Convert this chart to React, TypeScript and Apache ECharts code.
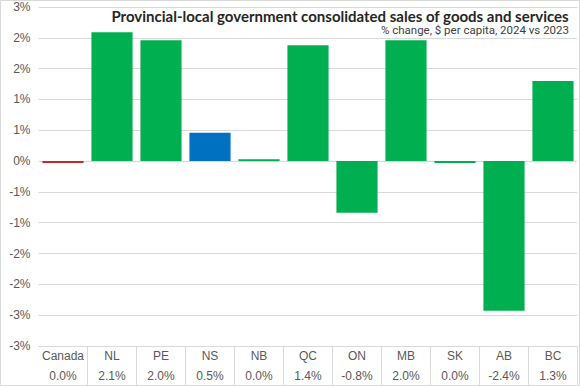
import React, { useEffect, useRef } from "react";
import * as echarts from "echarts";

const categories = ["Canada", "NL", "PE", "NS", "NB", "QC", "ON", "MB", "SK", "AB", "BC"];
const values = [-0.03, 2.09, 1.96, 0.46, 0.03, 1.88, -0.84, 1.96, -0.03, -2.43, 1.3];
const tableLabels = ["0.0%", "2.1%", "2.0%", "0.5%", "0.0%", "1.4%", "-0.8%", "2.0%", "0.0%", "-2.4%", "1.3%"];
const barColors = ["#c8282d", "#00b050", "#00b050", "#0070c0", "#00b050", "#00b050", "#00b050", "#00b050", "#00b050", "#00b050", "#00b050"];

const title = "Provincial-local government consolidated sales of goods and services";
const subtitle = "% change, $ per capita, 2024 vs 2023";

export default function App() {
  const ref = useRef<HTMLDivElement>(null);
  useEffect(() => {
    if (!ref.current) return;
    const chart = echarts.init(ref.current, null, { renderer: "svg" });
    chart.setOption({
      animation: false,
      backgroundColor: "#ffffff",
      grid: { left: 38.5, right: 2.5, top: 7, bottom: 40, containLabel: false },
      title: [
        {
          text: title,
          right: 6,
          top: 3,
          textStyle: { fontFamily: "Lato", fontWeight: "bold", fontSize: 15, color: "#262626" },
        },
        {
          text: subtitle,
          right: 6,
          top: 19,
          textStyle: { fontFamily: "Roboto", fontWeight: "normal", fontSize: 11.5, color: "#404040" },
        },
      ],
      xAxis: {
        type: "category",
        data: categories,
        position: "bottom",
        axisLine: { show: true, onZero: false, lineStyle: { color: "#d9d9d9" } },
        axisTick: { show: true, length: 40, lineStyle: { color: "#d9d9d9" }, interval: (i: number) => i > 0 },
        axisLabel: {
          margin: 0,
          interval: 0,
          fontFamily: "Liberation Sans",
          fontSize: 12,
          color: "#595959",
          lineHeight: 20,
          formatter: (v: string, i: number) => `${v}\n${tableLabels[i]}`,
        },
      },
      yAxis: {
        type: "value",
        min: -3,
        max: 2.5,
        interval: 0.5,
        axisLine: { show: false },
        axisTick: { show: false },
        splitLine: { lineStyle: { color: "#d9d9d9" } },
        axisLabel: {
          fontFamily: "Liberation Sans",
          fontSize: 12,
          color: "#595959",
          formatter: (v: number) => {
            const r = Math.sign(v) * Math.round(Math.abs(v) + 1e-9);
            return `${r === 0 ? 0 : r}%`;
          },
        },
      },
      series: [
        {
          type: "bar",
          data: values.map((v, i) => ({ value: v, itemStyle: { color: barColors[i] } })),
          barCategoryGap: "16%",
        },
      ],
      graphic: [
        {
          type: "rect",
          shape: { x: 0.5, y: 0.5, width: 579, height: 385 },
          style: { fill: "none", stroke: "#d9d9d9", lineWidth: 1 },
          silent: true,
        },
      ],
    });
    return () => chart.dispose();
  }, []);
  return <div ref={ref} style={{ position: "fixed", left: 0, top: 0, width: 580, height: 386 }} />;
}
